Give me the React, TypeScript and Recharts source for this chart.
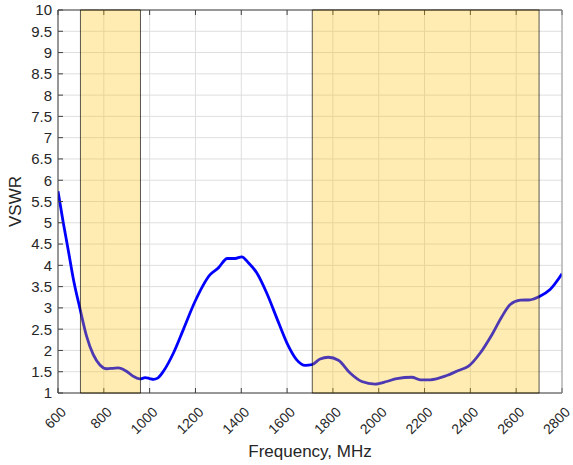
import React from 'react';
import {
  LineChart,
  Line,
  XAxis,
  YAxis,
  CartesianGrid,
  ReferenceArea,
  Label
} from 'recharts';

// measured sweep, MHz vs VSWR
const freqs = [
  600, 623, 645, 667, 696, 725, 754, 783, 813, 840, 863, 899, 929, 958, 980,
  1000, 1016, 1035, 1060, 1104, 1147, 1198, 1264, 1300, 1339, 1373, 1402, 1431,
  1468, 1511, 1555, 1599, 1642, 1679, 1710, 1744, 1780, 1824, 1875, 1926, 1984,
  2035, 2079, 2145, 2181, 2225, 2297, 2348, 2392, 2443, 2494, 2538, 2574, 2618,
  2661, 2702, 2748, 2800
];
const vswr = [
  5.74, 5.0, 4.35, 3.68, 2.98, 2.33, 1.9, 1.66, 1.57, 1.58, 1.59, 1.51, 1.39, 1.33, 1.36,
  1.34, 1.32, 1.35, 1.51, 1.94, 2.49, 3.15, 3.78, 3.94, 4.16, 4.16, 4.2, 4.06,
  3.82, 3.35, 2.76, 2.18, 1.78, 1.65, 1.67, 1.8, 1.84, 1.77, 1.47, 1.27, 1.21,
  1.27, 1.34, 1.37, 1.31, 1.31, 1.41, 1.53, 1.63, 1.94, 2.37, 2.8, 3.08, 3.18,
  3.19, 3.27, 3.43, 3.8
];

// operating bands (shaded)
const bandStart = [698, 1710];
const bandEnd = [960, 2700];

const xTicks = [600, 800, 1000, 1200, 1400, 1600, 1800, 2000, 2200, 2400, 2600, 2800];
const yTicks = [1, 1.5, 2, 2.5, 3, 3.5, 4, 4.5, 5, 5.5, 6, 6.5, 7, 7.5, 8, 8.5, 9, 9.5, 10];

const data = freqs.map((f, i) => ({ f, v: vswr[i] }));

const FONT = '"Liberation Sans", Arial, Helvetica, sans-serif';
const TEXT = '#262626';
const AXIS = '#404040';

if (typeof document !== 'undefined') {
  document.body.style.margin = '0';
}

const XTick = (props: any) => {
  const { x, y, payload } = props;
  return (
    <text
      x={x + 9}
      y={y}
      transform={`rotate(-45, ${x + 9}, ${y})`}
      textAnchor="end"
      fontSize={14}
      fontFamily={FONT}
      fill={TEXT}
    >
      {payload.value}
    </text>
  );
};

const YTick = (props: any) => {
  const { x, y, payload } = props;
  return (
    <text
      x={x}
      y={y}
      dy="0.36em"
      textAnchor="end"
      fontSize={15}
      fontFamily={FONT}
      fill={TEXT}
    >
      {payload.value}
    </text>
  );
};

const NoTick = () => <g />;

const YLabel = (props: any) => {
  const vb = props.viewBox || { x: 0, y: 10, width: 58, height: 383 };
  const cx = vb.x + 15;
  const cy = vb.y + vb.height / 2;
  return (
    <text
      x={cx}
      y={cy}
      transform={`rotate(-90, ${cx}, ${cy})`}
      textAnchor="middle"
      dominantBaseline="central"
      fontSize={17}
      fontFamily={FONT}
      fill={TEXT}
    >
      VSWR
    </text>
  );
};

export default function App() {
  return (
    <div style={{ width: 573, height: 465, background: '#fff' }}>
      <LineChart
        width={573}
        height={465}
        data={data}
        margin={{ top: 0, right: 0, bottom: 0, left: 0 }}
      >
        <CartesianGrid yAxisId="left" stroke="#dedede" strokeWidth={1} />
        <XAxis
          dataKey="f"
          type="number"
          domain={[600, 2800]}
          ticks={xTicks}
          interval={0}
          height={72}
          tickSize={-5}
          tickMargin={25}
          tick={<XTick />}
          stroke={AXIS}
          allowDataOverflow
        >
          <Label
            value="Frequency, MHz"
            position="insideBottom"
            offset={8}
            style={{ fontSize: 17, fontFamily: FONT, fill: TEXT }}
          />
        </XAxis>
        <XAxis
          xAxisId="top"
          orientation="top"
          dataKey="f"
          type="number"
          domain={[600, 2800]}
          ticks={xTicks}
          interval={0}
          height={10}
          tickSize={-5}
          tick={NoTick}
          stroke={AXIS}
        />
        <YAxis
          yAxisId="left"
          type="number"
          domain={[1, 10]}
          ticks={yTicks}
          interval={0}
          width={58}
          tickSize={-5}
          tickMargin={11}
          tick={<YTick />}
          stroke={AXIS}
          allowDataOverflow
          label={<YLabel />}
        />
        <YAxis
          yAxisId="right"
          orientation="right"
          type="number"
          domain={[1, 10]}
          ticks={yTicks}
          interval={0}
          width={11}
          tickSize={-5}
          tick={NoTick}
          stroke="#9a9a9a"
        />
        <Line
          yAxisId="left"
          type="monotone"
          dataKey="v"
          stroke="#0000ff"
          strokeWidth={2.8}
          dot={false}
          isAnimationActive={false}
        />
        {bandStart.map((s, i) => (
          <ReferenceArea
            key={i}
            yAxisId="left"
            x1={s}
            x2={bandEnd[i]}
            y1={1}
            y2={10}
            fill="#ffc000"
            fillOpacity={0.3}
            stroke="#000"
            strokeOpacity={0.65}
            strokeWidth={1}
            {...({ zIndex: 1000 } as any)}
          />
        ))}
      </LineChart>
    </div>
  );
}
